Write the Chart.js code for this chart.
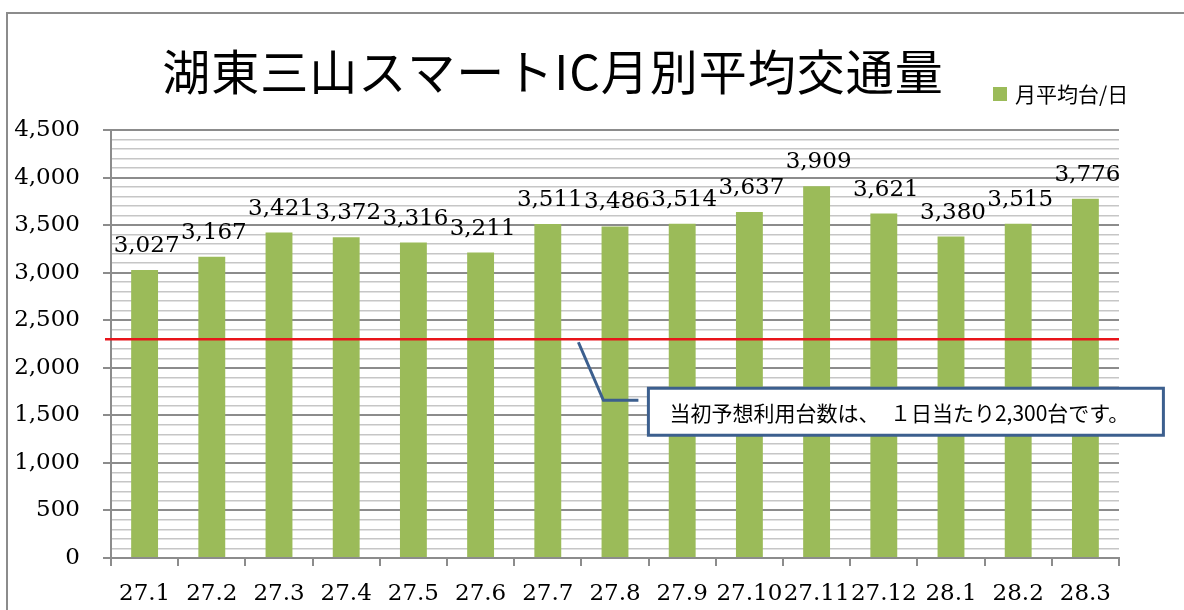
<!DOCTYPE html>
<html>
<head>
<meta charset="utf-8">
<script src="https://cdn.jsdelivr.net/npm/chart.js@4/dist/chart.umd.min.js"></script>
<style>
  body { margin: 0; background: #fff; }
  #wrap { width: 1184px; height: 610px; }
</style>
</head>
<body>
<div id="wrap"><canvas id="barGraph1"></canvas></div>
<script>
// data
var months = ['27.1', '27.2', '27.3', '27.4', '27.5', '27.6', '27.7', '27.8', '27.9', '27.10', '27.11', '27.12', '28.1', '28.2', '28.3'];
var dailyAvg = [3027, 3167, 3421, 3372, 3316, 3211, 3511, 3486, 3514, 3637, 3909, 3621, 3380, 3515, 3776];
var yMajorTicks = [0, 500, 1000, 1500, 2000, 2500, 3000, 3500, 4000, 4500];
var plannedPerDay = 2300;
var seriesName = '月平均台/日';
var chartTitle = '湖東三山スマートIC月別平均交通量';
var noteText = '当初予想利用台数は、　１日当たり2,300台です。';

var GREEN = '#9bbb59';
var GRID_MAJOR = '#8c8c8c';
var GRID_MINOR = '#c6c6c6';
var SERIF = '"DejaVu Serif", serif';
var JP = '"Noto Sans CJK JP", sans-serif';

function fmt(v) {
	return v.toLocaleString('en-US');
}

// frame, title, legend
var decoPlugin = {
	id: 'deco',
	beforeDraw: function(chart) {
		var c = chart.ctx;
		c.save();
		c.fillStyle = '#fff';
		c.fillRect(0, 0, chart.width, chart.height);
		c.strokeStyle = '#8c8c8c';
		c.lineWidth = 2;
		c.strokeRect(7, 13, chart.width + 20, chart.height + 20);
		c.restore();
	},
	afterDraw: function(chart) {
		var c = chart.ctx;
		c.save();
		c.fillStyle = '#000';
		c.font = '48px ' + JP;
		c.letterSpacing = '1px';
		c.textAlign = 'center';
		c.textBaseline = 'middle';
		c.fillText(chartTitle, 553, 72);
		c.letterSpacing = '0px';

		c.fillStyle = GREEN;
		c.fillRect(993, 87, 14, 14);
		c.fillStyle = '#000';
		c.font = '21px ' + JP;
		c.textAlign = 'left';
		c.fillText(seriesName, 1015, 94);
		c.restore();
	}
};

// value labels, planned line and callout
var overlayPlugin = {
	id: 'overlay',
	afterDatasetsDraw: function(chart) {
		var c = chart.ctx;
		var area = chart.chartArea;
		var xs = chart.scales.x;
		var ys = chart.scales.y;
		c.save();

		// red planned line
		var ry = ys.getPixelForValue(plannedPerDay);
		c.strokeStyle = '#e8141b';
		c.lineWidth = 2.5;
		c.beginPath();
		c.moveTo(area.left - 6, ry);
		c.lineTo(area.right, ry);
		c.stroke();

		// value labels
		var meta = chart.getDatasetMeta(0);
		c.fillStyle = '#000';
		c.font = '23px ' + SERIF;
		c.textAlign = 'center';
		c.textBaseline = 'alphabetic';
		meta.data.forEach(function(bar, i) {
			c.fillText(fmt(dailyAvg[i]), bar.x + 2, bar.y - 18);
		});

		// callout
		var x0 = (xs.getPixelForValue(6) + xs.getPixelForValue(7)) / 2 - 3;
		var y0 = ry + 3;
		c.strokeStyle = '#3c5f8e';
		c.lineWidth = 3;
		c.beginPath();
		c.moveTo(x0, y0);
		c.lineTo(x0 + 25, y0 + 58);
		c.lineTo(x0 + 60, y0 + 58);
		c.stroke();
		var bx = x0 + 70, by = y0 + 46, bw = 515, bh = 47;
		c.fillStyle = '#fff';
		c.fillRect(bx, by, bw, bh);
		c.strokeRect(bx, by, bw, bh);
		c.fillStyle = '#000';
		c.font = '21px ' + JP;
		c.textAlign = 'left';
		c.textBaseline = 'middle';
		c.fillText(noteText, bx + 21, by + bh / 2 + 1);
		c.restore();
	}
};

var chartdata = {
	labels: months,
	datasets: [{
		label: seriesName,
		backgroundColor: GREEN,
		borderWidth: 0,
		barPercentage: 0.4,
		categoryPercentage: 1.0,
		data: dailyAvg
	}]
};

var ctx = document.getElementById('barGraph1');
var barGraph = new Chart(ctx, {
	type: 'bar',
	data: chartdata,
	plugins: [decoPlugin, overlayPlugin],
	options: {
		responsive: true,
		maintainAspectRatio: false,
		animation: false,
		layout: { padding: { left: 14, right: 65, top: 130, bottom: 0 } },
		plugins: {
			legend: { display: false },
			title: { display: false },
			tooltip: { enabled: false }
		},
		scales: {
			x: {
				afterFit: function(scale) { scale.height = 52; },
				grid: {
					display: true,
					drawOnChartArea: false,
					offset: true,
					tickLength: 8,
					color: GRID_MAJOR,
					lineWidth: 2
				},
				border: { color: GRID_MAJOR, width: 2 },
				ticks: {
					autoSkip: false,
					maxRotation: 0,
					minRotation: 0,
					padding: 14,
					color: '#000',
					font: { family: SERIF, size: 23 }
				}
			},
			y: {
				min: yMajorTicks[0],
				max: yMajorTicks[yMajorTicks.length - 1],
				afterFit: function(scale) { scale.width = 97; },
				grid: {
					tickLength: 8,
					color: function(c) {
						return yMajorTicks.indexOf(c.tick.value) >= 0 ? GRID_MAJOR : GRID_MINOR;
					},
					tickColor: function(c) {
						return yMajorTicks.indexOf(c.tick.value) >= 0 ? GRID_MAJOR : 'rgba(0,0,0,0)';
					},
					lineWidth: function(c) {
						return yMajorTicks.indexOf(c.tick.value) >= 0 ? 2 : 1.5;
					}
				},
				border: { color: GRID_MAJOR, width: 2 },
				ticks: {
					stepSize: 100,
					autoSkip: false,
					padding: 23,
					color: '#000',
					font: { family: SERIF, size: 23 },
					callback: function(v) {
						return yMajorTicks.indexOf(v) >= 0 ? fmt(v) : '';
					}
				}
			}
		}
	}
});
</script>
</body>
</html>
